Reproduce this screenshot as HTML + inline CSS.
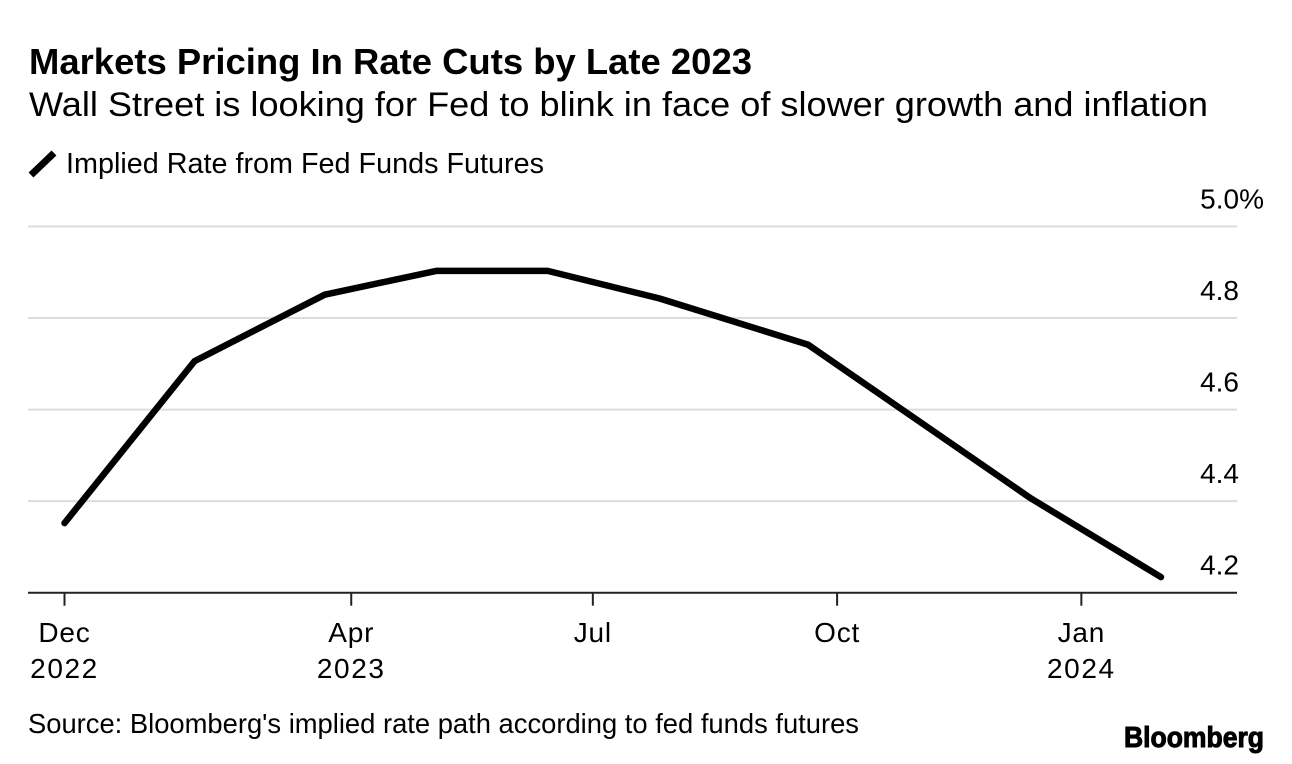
<!DOCTYPE html>
<html lang="en">
<head>
<meta charset="utf-8">
<title>Markets Pricing In Rate Cuts by Late 2023</title>
<style>
html,body{margin:0;padding:0;background:#fff;width:1292px;height:764px;overflow:hidden}
svg{display:block;font-family:"Liberation Sans",Arial,sans-serif;fill:#000}
</style>
</head>
<body>
<svg id="chart" width="1292" height="764" viewBox="0 0 1292 764">
  <text x="29" y="74" font-size="36" font-weight="700" textLength="723" lengthAdjust="spacingAndGlyphs">Markets Pricing In Rate Cuts by Late 2023</text>
  <text x="29" y="116" font-size="34" textLength="1179" lengthAdjust="spacingAndGlyphs">Wall Street is looking for Fed to blink in face of slower growth and inflation</text>
  <line x1="31" y1="175" x2="54" y2="153" stroke="#000" stroke-width="7"/>
  <text x="66" y="173" font-size="29" textLength="478" lengthAdjust="spacingAndGlyphs">Implied Rate from Fed Funds Futures</text>
  <g id="grid"></g>
  <g id="y-labels"></g>
  <g id="x-axis"></g>
  <path id="series" fill="none" stroke="#000" stroke-width="6.5" stroke-linejoin="round" stroke-linecap="round"/>
  <text x="28" y="733" font-size="28" textLength="831" lengthAdjust="spacingAndGlyphs">Source: Bloomberg's implied rate path according to fed funds futures</text>
  <text x="1124" y="747" font-size="29" font-weight="700" stroke="#000" stroke-width="1" textLength="140" lengthAdjust="spacingAndGlyphs">Bloomberg</text>
</svg>
<script>
const dates = ['2022-12-14','2023-02-01','2023-03-22','2023-05-03','2023-06-14','2023-07-26','2023-09-20','2023-11-01','2023-12-13','2024-01-31'];
const rates = [4.352,4.706,4.851,4.903,4.903,4.843,4.742,4.574,4.406,4.234];
const yTicks = [4.2,4.4,4.6,4.8,5.0];
const yTickLabels = ['4.2','4.4','4.6','4.8','5.0%'];
const xTickDates = ['2022-12-14','2023-04-01','2023-07-01','2023-10-01','2024-01-01'];
const xTickMonths = ['Dec','Apr','Jul','Oct','Jan'];
const xTickYears = ['2022','2023','','','2024'];

const SVG_NS = 'http://www.w3.org/2000/svg';
const plot = {left: 28, right: 1237, top: 226.5, bottom: 592.7};
const yMin = 4.2, yMax = 5.0;
const t0 = Date.parse('2022-12-14');
const t1 = Date.parse('2024-01-31');
const xStart = 64.5, xEnd = 1161;

function xScale(d) {
  return xStart + (Date.parse(d) - t0) / (t1 - t0) * (xEnd - xStart);
}
function yScale(v) {
  return plot.bottom - (v - yMin) / (yMax - yMin) * (plot.bottom - plot.top);
}
function make(tag, attrs, parent, text) {
  const el = document.createElementNS(SVG_NS, tag);
  for (const k in attrs) el.setAttribute(k, attrs[k]);
  if (text !== undefined) el.textContent = text;
  parent.appendChild(el);
  return el;
}

const grid = document.getElementById('grid');
const yLabels = document.getElementById('y-labels');
yTicks.forEach(function (v, i) {
  const y = yScale(v);
  if (i > 0) {
    const line = make('line', {x1: plot.left, x2: plot.right, y1: y, y2: y, stroke: '#dcdcdc', 'stroke-width': 2}, grid);
    
    
  }
  const label = make('text', {x: i < yTicks.length - 1 ? 1239 : 1264, y: y - 18, 'font-size': 28, 'text-anchor': 'end'}, yLabels, yTickLabels[i]);
  
  
});

const xAxis = document.getElementById('x-axis');
const baseline = make('line', {x1: plot.left, x2: plot.right, y1: plot.bottom, y2: plot.bottom, stroke: '#222', 'stroke-width': 2}, xAxis);


xTickDates.forEach(function (d, i) {
  const x = xScale(d);
  const tick = make('line', {x1: x, x2: x, y1: plot.bottom, y2: plot.bottom + 13, stroke: '#222', 'stroke-width': 2}, xAxis);
  
  
  const month = make('text', {x: x, y: 642, 'font-size': 28, 'letter-spacing': 0.8, 'text-anchor': 'middle'}, xAxis, xTickMonths[i]);
  
  
  if (xTickYears[i]) {
    const year = make('text', {x: x, y: 678, 'font-size': 28, 'letter-spacing': 1.6, 'text-anchor': 'middle'}, xAxis, xTickYears[i]);
    
    
  }
});

document.getElementById('series').setAttribute('d', dates.map(function (d, i) {
  return (i ? 'L' : 'M') + xScale(d).toFixed(1) + ' ' + yScale(rates[i]).toFixed(1);
}).join(' '));
</script>
</body>
</html>
